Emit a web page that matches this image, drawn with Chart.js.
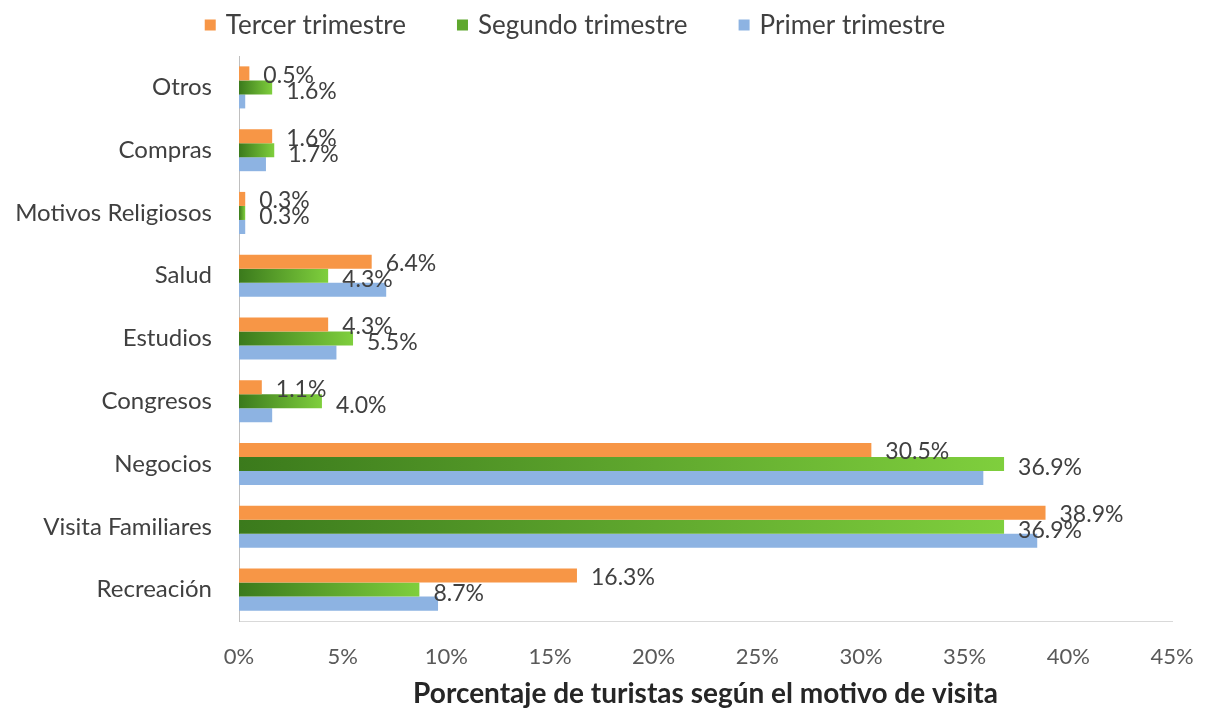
<!DOCTYPE html>
<html>
<head>
<meta charset="utf-8">
<script src="https://cdn.jsdelivr.net/npm/chart.js@4.4.1/dist/chart.umd.min.js"></script>
<style>
html,body{margin:0;padding:0;background:#fff;}
#wrap{width:1209px;height:713px;position:relative;}
</style>
</head>
<body>
<div id="wrap"><canvas id="c" width="1209" height="713"></canvas></div>
<script>
const categories = ['Otros','Compras','Motivos Religiosos','Salud','Estudios','Congresos','Negocios','Visita Familiares','Recreación'];
const seriesNames = ['Tercer trimestre','Segundo trimestre','Primer trimestre'];
const tercer  = [0.5, 1.6, 0.3, 6.4, 4.3, 1.1, 30.5, 38.9, 16.3];
const segundo = [1.6, 1.7, 0.3, 4.3, 5.5, 4.0, 36.9, 36.9, 8.7];
const primer  = [0.3, 1.3, 0.3, 7.1, 4.7, 1.6, 35.9, 38.5, 9.6];
const xTicks = [0,5,10,15,20,25,30,35,40,45];
const axisTitle = 'Porcentaje de turistas según el motivo de visita';

const FONT = 'Lato';
const ORANGE = '#f79646';
const GREEN_DARK = '#3b7a1c';
const GREEN_LIGHT = '#7fcf3d';
const BLUE = '#8db3e2';

function greenGradient(ctx){
  if (ctx.type !== 'data') return GREEN_LIGHT;
  const chart = ctx.chart;
  const xs = chart.scales.x;
  if (!xs || xs.width === undefined) return GREEN_LIGHT;
  const x0 = xs.getPixelForValue(0);
  const x1 = xs.getPixelForValue(ctx.raw);
  if (!isFinite(x0) || !isFinite(x1) || x1 - x0 < 1) return GREEN_LIGHT;
  const g = chart.ctx.createLinearGradient(x0, 0, x1, 0);
  g.addColorStop(0, GREEN_DARK);
  g.addColorStop(1, GREEN_LIGHT);
  return g;
}

const valueLabels = {
  id: 'valueLabels',
  afterDatasetsDraw(chart){
    const ctx = chart.ctx;
    ctx.save();
    ctx.font = '23px ' + FONT;
    ctx.fillStyle = '#404040';
    ctx.textAlign = 'left';
    ctx.textBaseline = 'middle';
    chart.data.datasets.forEach((ds, di) => {
      if (!ds.showValue) return;
      const meta = chart.getDatasetMeta(di);
      meta.data.forEach((bar, i) => {
        const v = ds.data[i];
        ctx.fillText(v.toFixed(1) + '%', bar.x + 14, bar.y + ds.labelDy);
      });
    });
    ctx.restore();
  }
};

const customLegend = {
  id: 'customLegend',
  afterDraw(chart){
    const ctx = chart.ctx;
    ctx.save();
    ctx.font = '26px ' + FONT;
    ctx.textBaseline = 'middle';
    ctx.textAlign = 'left';
    const box = 11, gapText = 10, gapItem = 51;
    const items = chart.data.datasets.map(d => ({text: d.label, color: d.legendColor}));
    let total = 0;
    items.forEach((it, i) => { total += box + gapText + ctx.measureText(it.text).width + (i < items.length - 1 ? gapItem : 0); });
    let x = 575 - total / 2;
    const y = 25;
    items.forEach(it => {
      ctx.fillStyle = it.color;
      ctx.fillRect(x, y - box / 2, box, box);
      x += box + gapText;
      ctx.fillStyle = '#404040';
      ctx.fillText(it.text, x, y + 1);
      x += ctx.measureText(it.text).width + gapItem;
    });
    ctx.restore();
  }
};

new Chart(document.getElementById('c'), {
  type: 'bar',
  data: {
    labels: categories,
    datasets: [
      {label: seriesNames[0], data: tercer, backgroundColor: ORANGE, legendColor: ORANGE, showValue: true, labelDy: 2},
      {label: seriesNames[1], data: segundo, backgroundColor: greenGradient, legendColor: '#5fa82e', showValue: true, labelDy: 4},
      {label: seriesNames[2], data: primer, backgroundColor: BLUE, legendColor: BLUE, showValue: false, labelDy: 0}
    ]
  },
  options: {
    indexAxis: 'y',
    responsive: false,
    animation: false,
    devicePixelRatio: 1,
    layout: {padding: {top: 56, right: 37, bottom: 2, left: 0}},
    datasets: {bar: {categoryPercentage: 0.67, barPercentage: 1.0}},
    plugins: {
      legend: {display: false},
      tooltip: {enabled: false}
    },
    scales: {
      x: {
        min: 0, max: 45,
        afterBuildTicks(scale){ scale.ticks = xTicks.map(v => ({value: v})); },
        afterFit(scale){ scale.paddingRight = 0; scale.paddingLeft = 0; },
        grid: {display: false, drawTicks: false},
        border: {display: true, color: '#d9d9d9', width: 1},
        ticks: {color: '#595959', font: {family: FONT, size: 22}, padding: 23, callback: v => v + '%'},
        title: {display: true, text: axisTitle, color: '#262626', font: {family: FONT, size: 28, weight: 'bold'}, padding: {top: -16, bottom: 0}}
      },
      y: {
        afterFit(scale){ scale.width = 239; },
        grid: {display: false, drawTicks: false},
        border: {display: true, color: '#bfbfbf', width: 1},
        ticks: {color: '#404040', font: {family: FONT, size: 24}, padding: 27}
      }
    }
  },
  plugins: [valueLabels, customLegend]
});
</script>
</body>
</html>
